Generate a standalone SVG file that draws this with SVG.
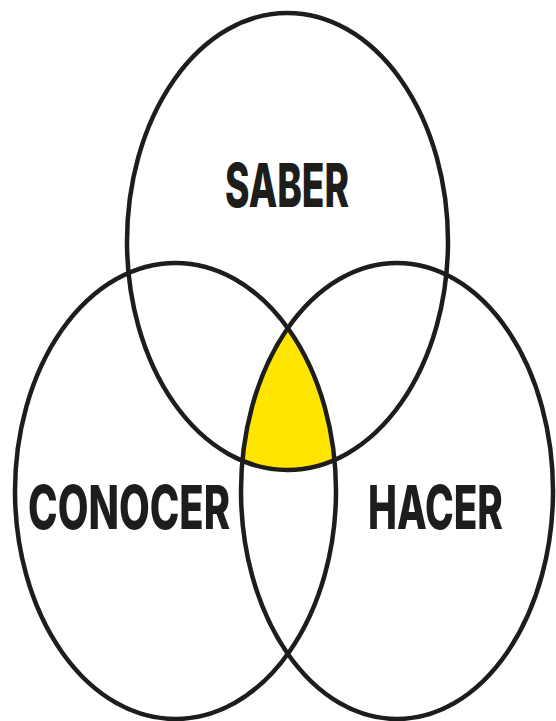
<svg xmlns="http://www.w3.org/2000/svg" width="556" height="721" viewBox="0 0 556 721">
  <style>
    .ring { fill: none; stroke: #1d1d1b; stroke-width: 4.5; }
    .label { font-family: Inter, "Open Sans", "DejaVu Sans", sans-serif; font-weight: 800; font-size: 61px; fill: #1d1d1b; }
  </style>
  <defs>
    <clipPath id="clipLeft"><ellipse cx="175.5" cy="491" rx="160.5" ry="228"/></clipPath>
    <clipPath id="clipRight"><ellipse cx="397" cy="491" rx="156" ry="228"/></clipPath>
  </defs>
  <rect width="556" height="721" fill="#ffffff"/>
  <g id="intersection" clip-path="url(#clipLeft)">
    <g clip-path="url(#clipRight)">
      <ellipse cx="287.5" cy="241.5" rx="160.5" ry="228.5" fill="#ffe600"/>
    </g>
  </g>
  <g id="saber">
    <ellipse class="ring" cx="287.5" cy="241.5" rx="160.5" ry="228.5"/>
    <text class="label" transform="translate(225,207) scale(0.65,1)" x="0" y="0" textLength="190.8" lengthAdjust="spacingAndGlyphs">SABER</text>
  </g>
  <g id="conocer">
    <ellipse class="ring" cx="175.5" cy="491" rx="160.5" ry="228"/>
    <text class="label" transform="translate(28,529) scale(0.65,1)" x="0" y="0" textLength="310.8" lengthAdjust="spacingAndGlyphs">CONOCER</text>
  </g>
  <g id="hacer">
    <ellipse class="ring" cx="397" cy="491" rx="156" ry="228"/>
    <text class="label" transform="translate(368,529) scale(0.65,1)" x="0" y="0" textLength="207.7" lengthAdjust="spacingAndGlyphs">HACER</text>
  </g>
  <g id="connectors"/>
</svg>
